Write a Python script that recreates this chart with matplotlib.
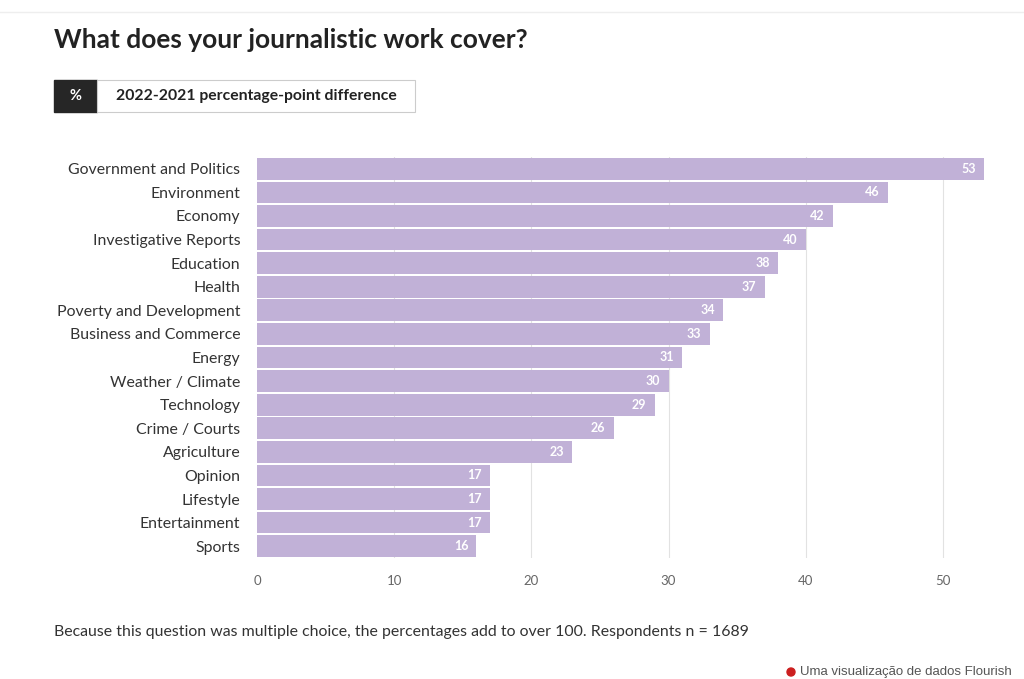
import matplotlib
matplotlib.use("Agg")
import matplotlib.pyplot as plt
from matplotlib.patches import Rectangle, Ellipse

categories = [
    "Government and Politics", "Environment", "Economy", "Investigative Reports",
    "Education", "Health", "Poverty and Development", "Business and Commerce",
    "Energy", "Weather / Climate", "Technology", "Crime / Courts", "Agriculture",
    "Opinion", "Lifestyle", "Entertainment", "Sports",
]
values = [53, 46, 42, 40, 38, 37, 34, 33, 31, 30, 29, 26, 23, 17, 17, 17, 16]
x_ticks = [0, 10, 20, 30, 40, 50]

FONT = "Lato"
BAR_COLOR = "#c1b1d7"
TEXT = "#333333"

fig = plt.figure(figsize=(10.24, 6.79), dpi=100)
fig.patch.set_facecolor("white")

W, H = 1024, 679
def fx(px): return px / W
def fy(py): return 1 - py / H

ax = fig.add_axes([fx(257), fy(558), fx(984) - fx(257), fy(157) - fy(558)])
n = len(categories)
ypos = list(range(n))
ax.barh(ypos, values, height=0.92, color=BAR_COLOR, zorder=2)
ax.set_ylim(n - 0.5, -0.5)
ax.set_xlim(0, 53)
ax.set_yticks(ypos)
ax.set_yticklabels(categories, fontsize=11.4, color=TEXT, family=FONT)
ax.set_xticks(x_ticks)
ax.set_xticklabels([str(t) for t in x_ticks], fontsize=9.5, color="#666666", family=FONT)
ax.tick_params(axis="y", length=0, pad=12)
ax.tick_params(axis="x", length=0, pad=12)
for s in ax.spines.values():
    s.set_visible(False)
for t in x_ticks[1:]:
    ax.axvline(t, color="#e2e2e2", lw=0.8, zorder=1)

for y, v in zip(ypos, values):
    ax.text(v - 0.6, y, str(v), ha="right", va="center", color="white",
            fontsize=9, fontweight="bold", family=FONT, zorder=3)

# top rule
fig.add_artist(plt.Line2D([0, 1], [fy(12), fy(12)], color="#eeeeee", lw=1))

fig.text(fx(54), fy(40), "What does your journalistic work cover?", fontsize=19,
         fontweight="bold", color="#222222", family=FONT, va="center", ha="left")

# legend-like button
fig.add_artist(Rectangle((fx(54), fy(112)), fx(97) - fx(54), fy(80) - fy(112),
                         transform=fig.transFigure, facecolor="#262626", edgecolor="#262626"))
fig.add_artist(Rectangle((fx(97), fy(112)), fx(415) - fx(97), fy(80) - fy(112),
                         transform=fig.transFigure, facecolor="white", edgecolor="#cccccc", lw=0.8))
fig.text(fx(75.5), fy(96), "%", color="white", fontsize=10.5, fontweight="bold",
         family=FONT, ha="center", va="center")
fig.text(fx(256), fy(96), "2022-2021 percentage-point difference", color="#222222",
         fontsize=11.3, fontweight="bold", family=FONT, ha="center", va="center")

fig.text(fx(54), fy(632), "Because this question was multiple choice, the percentages add to over 100. Respondents n = 1689",
         fontsize=11.4, color=TEXT, family=FONT, va="center", ha="left")

fig.add_artist(Ellipse((fx(791), fy(672)), fx(8), 8 / H, transform=fig.transFigure,
                       color="#cc1f1f"))
fig.text(fx(800), fy(672), "Uma visualização de dados Flourish", fontsize=9.5,
         color="#555555", family="Liberation Sans", va="center", ha="left")

fig.savefig("out.png", dpi=100, facecolor="white")
